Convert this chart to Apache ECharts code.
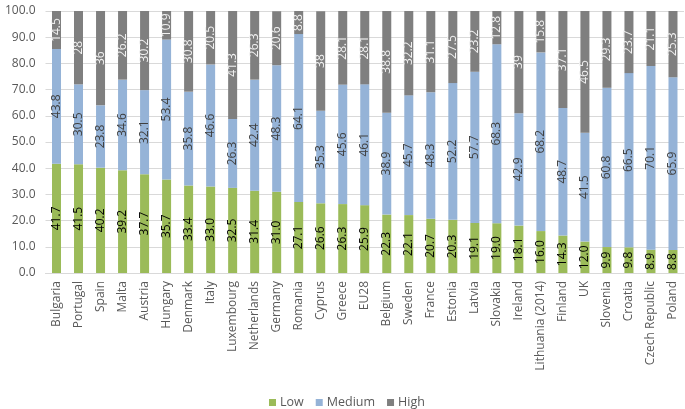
<!DOCTYPE html>
<html><head><meta charset="utf-8">
<script src="https://cdn.jsdelivr.net/npm/echarts@6/dist/echarts.min.js"></script>
<style>html,body{margin:0;padding:0;background:#fff}#c{width:685px;height:409px}</style>
</head><body><div id="c"></div>
<script>
const categories = ["Bulgaria","Portugal","Spain","Malta","Austria","Hungary","Denmark","Italy","Luxembourg","Netherlands","Germany","Romania","Cyprus","Greece","EU28","Belgium","Sweden","France","Estonia","Latvia","Slovakia","Ireland","Lithuania (2014)","Finland","UK","Slovenia","Croatia","Czech Republic","Poland"];
const low = [41.7,41.5,40.2,39.2,37.7,35.7,33.4,33.0,32.5,31.4,31.0,27.1,26.6,26.3,25.9,22.3,22.1,20.7,20.3,19.1,19.0,18.1,16.0,14.3,12.0,9.9,9.8,8.9,8.8];
const medium = [43.8,30.5,23.8,34.6,32.1,53.4,35.8,46.6,26.3,42.4,48.3,64.1,35.3,45.6,46.1,38.9,45.7,48.3,52.2,57.7,68.3,42.9,68.2,48.7,41.5,60.8,66.5,70.1,65.9];
const high = [14.5,28,36,26.2,30.2,10.9,30.8,20.5,41.3,26.3,20.6,8.8,38,28.1,28.1,38.8,32.2,31.1,27.5,23.2,12.8,39,15.8,37.1,46.5,29.3,23.7,21.1,25.3];
const yTicks = {min:0, max:100, interval:10};

const font = "'Open Sans', sans-serif";
function mk(name, data, color, labelColor, fmt) {
  return {
    name, type:'bar', stack:'s', data, barWidth: 9,
    itemStyle:{color},
    label:{show:true, position:'inside', rotate:90, fontSize:12, fontFamily:font, color:labelColor,
      formatter: p => fmt(p.value)}
  };
}
const chart = echarts.init(document.getElementById('c'), null, {renderer:'canvas'});
chart.setOption({
  animation:false,
  textStyle:{fontFamily:font},
  grid:{left:45.5, right:1, top:11, bottom:136, containLabel:false},
  legend:{top:391, left:264, icon:'rect', itemWidth:7, itemHeight:7, itemGap:12,
    textStyle:{fontSize:12.5, color:'#595959', fontFamily:font, padding:[0,0,0,-1]},
    data:['Low','Medium','High']},
  xAxis:{type:'category', data:categories,
    axisLine:{lineStyle:{color:'#d9d9d9'}}, axisTick:{show:false},
    axisLabel:{rotate:90, interval:0, fontSize:12, color:'#595959', margin:8, fontFamily:font}},
  yAxis:{type:'value', min:yTicks.min, max:yTicks.max, interval:yTicks.interval,
    axisLine:{show:false}, axisTick:{show:false},
    splitLine:{lineStyle:{color:'#d9d9d9'}},
    axisLabel:{fontSize:12, color:'#595959', margin:10, fontFamily:font, formatter:v=>v.toFixed(1)}},
  series:[
    mk('Low', low, '#9bbb59', '#000000', v=>v.toFixed(1)),
    mk('Medium', medium, '#95b3d7', '#404040', v=>String(v)),
    mk('High', high, '#7f7f7f', '#f2f2f2', v=>String(v))
  ]
});
</script></body></html>
